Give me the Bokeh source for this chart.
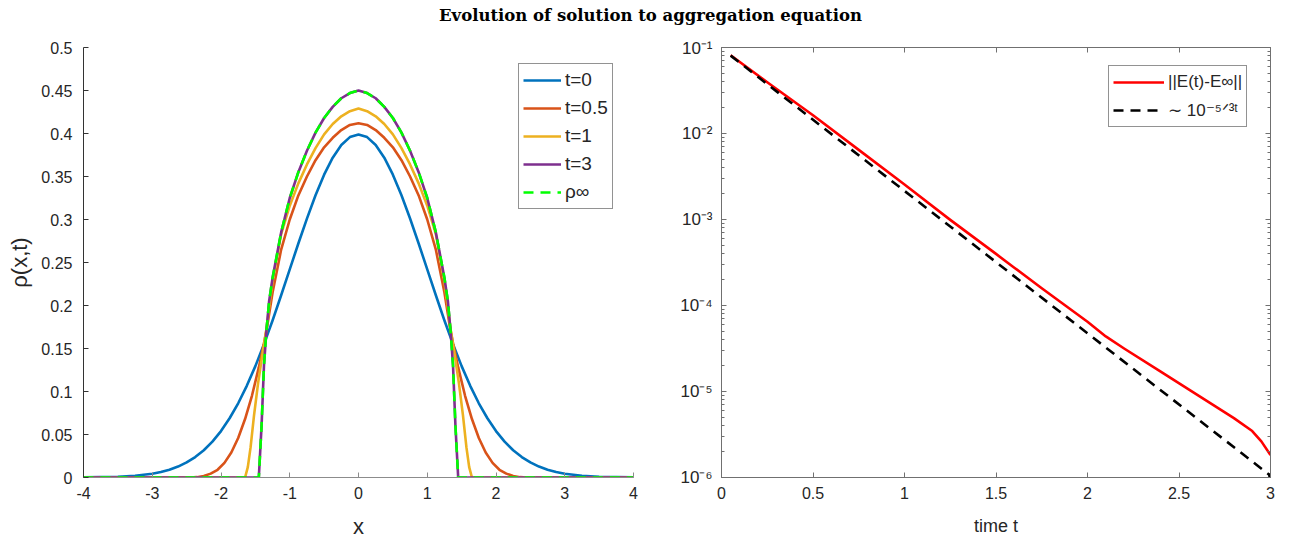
import numpy as np
from bokeh.plotting import figure
from bokeh.models import (FixedTicker, CustomJSTickFormatter, Legend, LegendItem,
                          LinearAxis, LogAxis, Label)
from bokeh.layouts import column, row
from bokeh.embed import file_html
from bokeh.resources import INLINE

# ---------------- data ----------------
title_text = "Evolution of solution to aggregation equation"

x_t0 = [-4, -3.75, -3.5, -3.25, -3, -2.875, -2.75, -2.625, -2.5, -2.375, -2.25, -2.125, -2,
        -1.875, -1.75, -1.625, -1.5, -1.375, -1.25, -1.125, -1,
        -0.875, -0.75, -0.625, -0.5, -0.375, -0.25, -0.125, 0, 0.125, 0.25, 0.375, 0.5,
        0.625, 0.75, 0.875, 1, 1.125, 1.25, 1.375, 1.5, 1.625, 1.75, 1.875, 2, 2.125, 2.25,
        2.375, 2.5, 2.625, 2.75, 2.875, 3, 3.25, 3.5, 3.75, 4]
rho_t0 = [0.0001, 0.0004, 0.0009, 0.0020, 0.0044, 0.0064, 0.0091, 0.0127, 0.0175, 0.0238,
          0.0317, 0.0417, 0.0540, 0.0689, 0.0863, 0.1066, 0.1295, 0.1551,
          0.1826, 0.2119, 0.2420, 0.2721, 0.3011, 0.3282, 0.3521, 0.3719, 0.3867, 0.3958,
          0.3989, 0.3958, 0.3867, 0.3719, 0.3521, 0.3282, 0.3011, 0.2721, 0.2420, 0.2119,
          0.1826, 0.1551, 0.1295, 0.1066, 0.0863, 0.0689, 0.0540, 0.0417, 0.0317, 0.0238,
          0.0175, 0.0127, 0.0091, 0.0064, 0.0044, 0.0020, 0.0009, 0.0004, 0.0001]

x_t05 = [-4, -2.45, -2.35, -2.25, -2.15, -2.05, -1.95, -1.85, -1.75, -1.65, -1.55, -1.45,
         -1.375, -1.33, -1.25, -1.125, -1, -0.875, -0.75, -0.625, -0.5, -0.375, -0.25, -0.125,
         0, 0.125, 0.25, 0.375, 0.5, 0.625, 0.75, 0.875, 1, 1.125, 1.25, 1.33, 1.375, 1.45,
         1.55, 1.65, 1.75, 1.85, 1.95, 2.05, 2.15, 2.25, 2.35, 2.45, 4]
rho_t05 = [0, 0, 0.0004, 0.0018, 0.0045, 0.009, 0.017, 0.029, 0.046, 0.068, 0.095, 0.128,
           0.156, 0.175, 0.215, 0.265, 0.300, 0.328, 0.350, 0.369, 0.384, 0.395, 0.404, 0.410,
           0.412, 0.410, 0.404, 0.395, 0.384, 0.369, 0.350, 0.328, 0.300, 0.265, 0.215, 0.175,
           0.156, 0.128, 0.095, 0.068, 0.046, 0.029, 0.017, 0.009, 0.0045, 0.0018, 0.0004, 0, 0]

x_t1 = [-4, -1.65, -1.61, -1.57, -1.52, -1.46, -1.4, -1.34, -1.3, -1.25, -1.125, -1, -0.875,
        -0.75, -0.625, -0.5, -0.375, -0.25, -0.125, 0, 0.125, 0.25, 0.375, 0.5, 0.625, 0.75,
        0.875, 1, 1.125, 1.25, 1.3, 1.34, 1.4, 1.46, 1.52, 1.57, 1.61, 1.65, 4]
rho_t1 = [0, 0, 0.012, 0.035, 0.072, 0.110, 0.142, 0.172, 0.198, 0.228, 0.283, 0.316, 0.342,
          0.364, 0.383, 0.399, 0.411, 0.420, 0.426, 0.429, 0.426, 0.420, 0.411, 0.399, 0.383,
          0.364, 0.342, 0.316, 0.283, 0.228, 0.198, 0.172, 0.142, 0.110, 0.072, 0.035, 0.012, 0, 0]

x_t3 = [-4, -1.45, -1.41, -1.375, -1.34, -1.3, -1.25, -1.125, -1, -0.875, -0.75, -0.625, -0.5,
        -0.375, -0.25, -0.125, 0, 0.125, 0.25, 0.375, 0.5, 0.625, 0.75, 0.875, 1, 1.125, 1.25,
        1.3, 1.34, 1.375, 1.41, 1.45, 4]
rho_t3 = [0, 0, 0.06, 0.13, 0.170, 0.205, 0.232, 0.285, 0.325, 0.355, 0.380, 0.401, 0.418,
          0.431, 0.441, 0.447, 0.450, 0.447, 0.441, 0.431, 0.418, 0.401, 0.380, 0.355, 0.325,
          0.285, 0.232, 0.205, 0.170, 0.13, 0.06, 0, 0]

x_inf = [-4, -1.45, -1.41, -1.375, -1.34, -1.3, -1.25, -1.125, -1, -0.875, -0.75, -0.625, -0.5,
         -0.375, -0.25, -0.125, 0, 0.125, 0.25, 0.375, 0.5, 0.625, 0.75, 0.875, 1, 1.125, 1.25,
         1.3, 1.34, 1.375, 1.41, 1.45, 4]
rho_inf = [0, 0, 0.06, 0.13, 0.170, 0.205, 0.232, 0.285, 0.325, 0.355, 0.380, 0.401, 0.418,
           0.431, 0.441, 0.447, 0.450, 0.447, 0.441, 0.431, 0.418, 0.401, 0.380, 0.355, 0.325,
           0.285, 0.232, 0.205, 0.170, 0.13, 0.06, 0, 0]

left_labels = ["t=0", "t=0.5", "t=1", "t=3", "ρ∞"]

t_err = [0.05, 0.25, 0.5, 0.75, 1.0, 1.25, 1.5, 1.6, 1.75, 2.0, 2.1, 2.2, 2.4, 2.6, 2.8, 2.9, 2.95, 3.0]
err = [0.0813, 0.0395, 0.0163, 6.45e-3, 2.55e-3, 9.9e-4, 3.98e-4, 2.75e-4, 1.585e-4, 6.46e-5,
       4.37e-5, 3.16e-5, 1.70e-5, 9.12e-6, 4.90e-6, 3.47e-6, 2.63e-6, 1.82e-6]

t_ref = [0.05, 3.0]
ref = [0.0804, 1.05e-6]

right_labels = ["||E(t)-E∞||", "∼ 10⁻⁵ᐟ³ᵗ"]

x_ticks = [-4, -3, -2, -1, 0, 1, 2, 3, 4]
y_ticks = [0, 0.05, 0.1, 0.15, 0.2, 0.25, 0.3, 0.35, 0.4, 0.45, 0.5]
t_ticks = [0, 0.5, 1, 1.5, 2, 2.5, 3]
log_ticks = [1e-6, 1e-5, 1e-4, 1e-3, 1e-2, 1e-1]

# ---------------- styling ----------------
FONT = "Liberation Sans"
TICK_COL = "#262626"
C_BLUE, C_ORANGE, C_YELLOW, C_PURPLE, C_GREEN = "#0072BD", "#D95319", "#EDB120", "#7E2F8E", "#00FF00"
LW = 2.6

def style_axis(ax, line_col, font_size="16px"):
    ax.axis_line_color = line_col
    ax.major_tick_line_color = line_col
    ax.minor_tick_line_color = line_col
    ax.major_tick_in = 5
    ax.major_tick_out = 0
    ax.minor_tick_in = 3
    ax.minor_tick_out = 0
    ax.major_label_text_font = FONT
    ax.major_label_text_font_size = font_size
    ax.major_label_text_color = TICK_COL
    ax.axis_label_text_font = FONT
    ax.axis_label_text_font_style = "normal"
    ax.axis_label_text_color = TICK_COL

# ---------------- title band ----------------
title_fig = figure(width=1299, height=38, x_range=(0, 1), y_range=(0, 1),
                   toolbar_location=None, output_backend="svg", min_border=0,
                   x_axis_location=None, y_axis_location=None, outline_line_color=None)
title_fig.xgrid.visible = False
title_fig.ygrid.visible = False
title_fig.add_layout(Label(x=650, y=23, x_units="screen", y_units="screen", text=title_text,
                           text_font="DejaVu Serif", text_font_style="bold",
                           text_font_size="16.5px", text_align="center",
                           text_baseline="middle", text_color="#000000"))

# ---------------- left panel ----------------
p1 = figure(width=653, height=505, x_range=(-4, 4), y_range=(0, 0.5),
            toolbar_location=None, output_backend="svg",
            min_border_left=83, min_border_right=20, min_border_top=9, min_border_bottom=66)
p1.outline_line_color = None
p1.xgrid.visible = False
p1.ygrid.visible = False

r0 = p1.line(x_t0, rho_t0, line_color=C_BLUE, line_width=LW, line_join="round")
r05 = p1.line(x_t05, rho_t05, line_color=C_ORANGE, line_width=LW, line_join="round")
r1 = p1.line(x_t1, rho_t1, line_color=C_YELLOW, line_width=LW, line_join="round")
r3 = p1.line(x_t3, rho_t3, line_color=C_PURPLE, line_width=LW, line_join="round")
rinf = p1.line(x_inf, rho_inf, line_color=C_GREEN, line_width=LW, line_dash="10 7")

p1.xaxis.ticker = FixedTicker(ticks=x_ticks, minor_ticks=[])
p1.yaxis.ticker = FixedTicker(ticks=y_ticks, minor_ticks=[])
p1.xaxis.formatter = CustomJSTickFormatter(code="return String(tick);")
p1.yaxis.formatter = CustomJSTickFormatter(code="return String(Math.round(tick*100)/100);")
style_axis(p1.xaxis[0], "#8c8c8c")
style_axis(p1.yaxis[0], "#333333")
p1.xaxis.axis_label = "x"
p1.xaxis.axis_label_text_font_size = "22px"
p1.xaxis.major_label_standoff = 9
p1.xaxis.axis_label_standoff = 12
p1.yaxis.axis_label = "ρ(x,t)"
p1.yaxis.axis_label_text_font_size = "22px"
p1.yaxis.major_label_standoff = 11
p1.yaxis.axis_label_standoff = 6

leg1 = Legend(items=[LegendItem(label=left_labels[0], renderers=[r0]),
                     LegendItem(label=left_labels[1], renderers=[r05]),
                     LegendItem(label=left_labels[2], renderers=[r1]),
                     LegendItem(label=left_labels[3], renderers=[r3]),
                     LegendItem(label=left_labels[4], renderers=[rinf])],
              location=(435, 268), glyph_width=38, glyph_height=24, label_height=24,
              spacing=4, padding=4, margin=0, label_standoff=4,
              label_text_font=FONT, label_text_font_size="19px", label_text_color=TICK_COL,
              border_line_color="#262626", border_line_width=1, background_fill_alpha=1)
p1.add_layout(leg1)

# ---------------- right panel ----------------
p2 = figure(width=646, height=505, x_range=(0, 3), y_range=(1e-6, 1e-1), y_axis_type="log",
            toolbar_location=None, output_backend="svg",
            min_border_left=68, min_border_right=29, min_border_top=9, min_border_bottom=66)
p2.outline_line_color = "#707070"
p2.xgrid.visible = False
p2.ygrid.visible = False

re = p2.line(t_err, err, line_color="#FF0000", line_width=LW, line_join="round")
rr = p2.line(t_ref, ref, line_color="#000000", line_width=LW, line_dash="10 7")
p2.scatter(t_ref[-1:], ref[-1:], size=4, color="#000000")

minor_log = [m * 10.0 ** k for k in range(-6, -1) for m in range(2, 10)]
log_fmt = CustomJSTickFormatter(code="""
const sup = {'-':'\u207b','0':'\u2070','1':'\u00b9','2':'\u00b2','3':'\u00b3','4':'\u2074',
             '5':'\u2075','6':'\u2076','7':'\u2077','8':'\u2078','9':'\u2079'};
const e = Math.round(Math.log10(tick));
return '10' + String(e).split('').map(c => sup[c]).join('');
""")
empty_fmt = CustomJSTickFormatter(code="return '';")

p2.xaxis.ticker = FixedTicker(ticks=t_ticks, minor_ticks=[])
p2.xaxis.formatter = CustomJSTickFormatter(code="return String(Math.round(tick*10)/10);")
p2.yaxis.ticker = FixedTicker(ticks=log_ticks, minor_ticks=minor_log)
p2.yaxis.formatter = log_fmt
style_axis(p2.xaxis[0], "#707070")
style_axis(p2.yaxis[0], "#707070", font_size="17px")
p2.xaxis.axis_label = "time t"
p2.xaxis.axis_label_text_font_size = "18px"
p2.xaxis.major_label_standoff = 9
p2.xaxis.axis_label_standoff = 14
p2.yaxis.major_label_standoff = 9

top_ax = LinearAxis(ticker=FixedTicker(ticks=t_ticks, minor_ticks=[]), formatter=empty_fmt)
style_axis(top_ax, "#707070", font_size="0px")
p2.add_layout(top_ax, "above")
right_ax = LogAxis(ticker=FixedTicker(ticks=log_ticks, minor_ticks=minor_log), formatter=empty_fmt)
style_axis(right_ax, "#707070", font_size="0px")
p2.add_layout(right_ax, "right")

leg2 = Legend(items=[LegendItem(label=right_labels[0], renderers=[re]),
                     LegendItem(label=right_labels[1], renderers=[rr])],
              location=(387, 350), glyph_width=51, glyph_height=24, label_height=24,
              spacing=4, padding=4, margin=0, label_standoff=4,
              label_text_font=FONT, label_text_font_size="17px", label_text_color=TICK_COL,
              border_line_color="#262626", border_line_width=1, background_fill_alpha=1)
p2.add_layout(leg2)

layout = column(title_fig, row(p1, p2))
open("out.html", "w").write(file_html(layout, INLINE))
